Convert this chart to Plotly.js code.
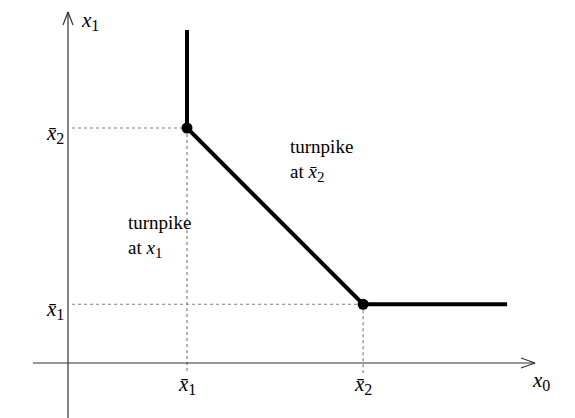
<!DOCTYPE html>
<html>
<head>
<meta charset="utf-8">
<script src="https://cdn.plot.ly/plotly-3.0.1.min.js"></script>
<style>
  html, body { margin: 0; padding: 0; background: #fff; }
  #chart { width: 575px; height: 418px; }
</style>
</head>
<body>
<div id="chart"></div>
<script>
// turnpike path: vertical piece, kink at x̄1, slope down to x̄2, then flat
var pathX = [1.0, 1.0, 2.48, 3.69];
var pathY = [2.834, 2.0, 0.5, 0.5];
// the two turnpike points
var dotX = [1.0, 2.48];
var dotY = [2.0, 0.5];
// y levels of the bars on the x1 axis
var levelY = [0.5, 2.0];
var tickSubs = ["1", "2"];

// pixel <-> data helpers (plot fills the whole page)
var W = 575, H = 418;
var x0px = 68, y0px = 363, ux = 119, uy = 117.5;
function dx(p) { return (p - x0px) / ux; }
function dy(p) { return (y0px - p) / uy; }

var serif = "Liberation Serif";
var axisCol = "#333333";
var guideCol = "#808080";

var traces = [];
// dotted guides
for (var i = 0; i < dotX.length; i++) {
    traces.push({
        x: [dx(72), dotX[i]], y: [dotY[i], dotY[i]],
        type: "scatter", mode: "lines", hoverinfo: "skip",
        line: { color: guideCol, width: 1.2, dash: "3px,3px" }
    });
    traces.push({
        x: [dotX[i], dotX[i]], y: [dotY[i], dy(373)],
        type: "scatter", mode: "lines", hoverinfo: "skip",
        line: { color: guideCol, width: 1.2, dash: "3px,3px" }
    });
}
traces.push({
    x: pathX, y: pathY,
    type: "scatter", mode: "lines",
    line: { color: "#000", width: 4 }
});
traces.push({
    x: dotX, y: dotY,
    type: "scatter", mode: "markers",
    marker: { color: "#000", size: 11 }
});

function seg(xa, ya, xb, yb) {
    return {
        type: "line", xref: "x", yref: "y",
        x0: dx(xa), y0: dy(ya), x1: dx(xb), y1: dy(yb),
        line: { color: axisCol, width: 1.2 }
    };
}
var shapes = [
    seg(33, 363, 535, 363),
    seg(521, 358, 535, 363),
    seg(521, 368, 535, 363),
    seg(68, 418, 68, 12),
    seg(63, 25, 68, 12),
    seg(73, 25, 68, 12)
];

function lab(x, y, txt, opts) {
    var a = {
        x: x, y: y, xref: "x", yref: "y", text: txt, showarrow: false,
        font: { family: serif, size: 21, color: "#000" },
        xanchor: "center", yanchor: "middle"
    };
    for (var k in opts) a[k] = opts[k];
    return a;
}
function mathLab(n, s, sz) {
    return "<i>" + n + "</i><sub><span style=\"font-size:" + (sz || 16) + "px\">" + s + "</span></sub>";
}

var annotations = [];
for (var j = 0; j < dotX.length; j++) {
    // bottom labels under x axis
    annotations.push(lab(dotX[j], dy(385), mathLab("x̄", tickSubs[j])));
    // left labels beside y axis
    annotations.push(lab(dx(66), levelY[j], mathLab("x̄", tickSubs[j]),
        { xanchor: "right", yshift: -6 }));
}
annotations.push(lab(dx(79), dy(21), mathLab("x", "1"), { xanchor: "left" }));
annotations.push(lab(dx(530), dy(381), mathLab("x", "0"), { xanchor: "left" }));
var noteFont = { family: serif, size: 19, color: "#000" };
annotations.push(lab(dx(126), dy(210), "turnpike<br>at " + mathLab("x", "1", 15),
    { xanchor: "left", yanchor: "top", align: "left", font: noteFont }));
annotations.push(lab(dx(288), dy(134), "turnpike<br>at " + mathLab("x̄", "2", 15),
    { xanchor: "left", yanchor: "top", align: "left", font: noteFont }));

var layout = {
    width: W, height: H,
    margin: { l: 0, r: 0, t: 0, b: 0 },
    font: { family: serif, size: 19, color: "#000" },
    paper_bgcolor: "#fff", plot_bgcolor: "#fff",
    showlegend: false,
    xaxis: { range: [dx(0), dx(W)], visible: false, fixedrange: true },
    yaxis: { range: [dy(H), dy(0)], visible: false, fixedrange: true },
    shapes: shapes,
    annotations: annotations
};

Plotly.newPlot("chart", traces, layout, { displayModeBar: false, staticPlot: true });
</script>
</body>
</html>
